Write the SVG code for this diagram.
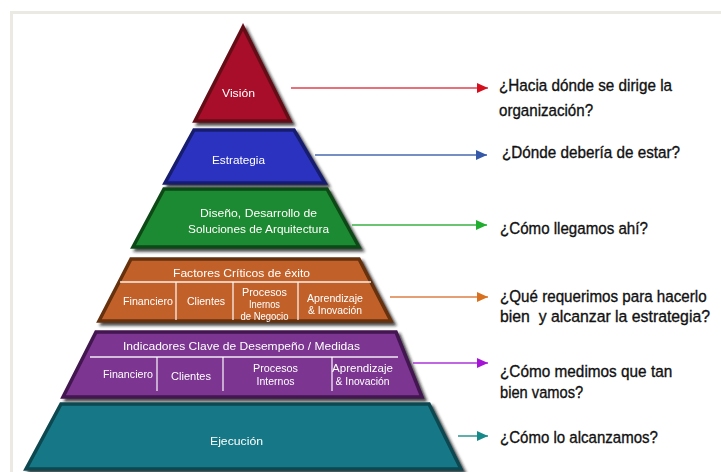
<svg xmlns="http://www.w3.org/2000/svg" width="721" height="472" viewBox="0 0 721 472">
  <defs>
    <filter id="shadow" x="-10%" y="-10%" width="125%" height="125%">
      <feDropShadow dx="3" dy="3" stdDeviation="1.4" flood-color="#1a1a1a" flood-opacity="0.8"/>
    </filter>
    <marker id="ah-red" markerUnits="userSpaceOnUse" markerWidth="12" markerHeight="10" refX="11" refY="5" orient="auto"><path d="M0,0 L11,5 L0,10 z" fill="#d4101e"/></marker>
    <marker id="ah-blue" markerUnits="userSpaceOnUse" markerWidth="12" markerHeight="10" refX="11" refY="5" orient="auto"><path d="M0,0 L11,5 L0,10 z" fill="#3558a8"/></marker>
    <marker id="ah-green" markerUnits="userSpaceOnUse" markerWidth="12" markerHeight="10" refX="11" refY="5" orient="auto"><path d="M0,0 L11,5 L0,10 z" fill="#1fae2e"/></marker>
    <marker id="ah-orange" markerUnits="userSpaceOnUse" markerWidth="12" markerHeight="10" refX="11" refY="5" orient="auto"><path d="M0,0 L11,5 L0,10 z" fill="#d9701f"/></marker>
    <marker id="ah-purple" markerUnits="userSpaceOnUse" markerWidth="12" markerHeight="10" refX="11" refY="5" orient="auto"><path d="M0,0 L11,5 L0,10 z" fill="#a514d6"/></marker>
    <marker id="ah-teal" markerUnits="userSpaceOnUse" markerWidth="12" markerHeight="10" refX="11" refY="5" orient="auto"><path d="M0,0 L11,5 L0,10 z" fill="#168a8a"/></marker>
  </defs>
  <style>
    .tier { filter: url(#shadow); }
    .tier polygon { stroke-width: 3.5; stroke-linejoin: miter; }
    .lbl { font-family: "Liberation Sans", Arial, sans-serif; font-size: 11px; fill: #ffffff; text-anchor: middle; }
    .cell { font-size: 10px; }
    .rule { stroke: #ffffff; stroke-width: 1.3; opacity: 0.9; }
    .q { font-family: "Liberation Sans", Arial, sans-serif; font-size: 17px; fill: #111111; stroke: #111111; stroke-width: 0.35; white-space: pre; }
    .conn line { stroke-width: 1.5; fill: none; }
  </style>

  <!-- page frame -->
  <rect width="721" height="472" fill="#ffffff"/>
  <path d="M11.5,472 V12.5 H721" fill="none" stroke="#ebeae2" stroke-width="3"/>

  <!-- pyramid tiers -->
  <g id="vision" class="tier">
    <polygon points="243,27 195,121 290,121" fill="#a8102a" stroke="#650a17"/>
    <text class="lbl" x="238.5" y="97" textLength="33" lengthAdjust="spacingAndGlyphs">Visión</text>
  </g>

  <g id="estrategia" class="tier">
    <polygon points="194,130 294,130 325,183 165,183" fill="#2c33bf" stroke="#181c6e"/>
    <text class="lbl" x="238.5" y="164" textLength="53" lengthAdjust="spacingAndGlyphs">Estrategia</text>
  </g>

  <g id="diseno" class="tier">
    <polygon points="164,189 327,189 359,247 133,247" fill="#1f8a30" stroke="#0d4a17"/>
    <text class="lbl" x="258.5" y="217" textLength="117" lengthAdjust="spacingAndGlyphs">Diseño, Desarrollo de</text>
    <text class="lbl" x="258.5" y="233" textLength="141" lengthAdjust="spacingAndGlyphs">Soluciones de Arquitectura</text>
  </g>

  <g id="factores" class="tier">
    <polygon points="131,259 359,259 391,321 99,321" fill="#c2612a" stroke="#66300f"/>
    <text class="lbl" x="241.5" y="277" textLength="137" lengthAdjust="spacingAndGlyphs">Factores Críticos de éxito</text>
    <line class="rule" x1="120" y1="282" x2="371" y2="282"/>
    <line class="rule" x1="176" y1="282" x2="176" y2="320"/>
    <line class="rule" x1="233" y1="282" x2="233" y2="320"/>
    <line class="rule" x1="298" y1="282" x2="298" y2="320"/>
    <text class="lbl cell" x="148" y="305" textLength="50" lengthAdjust="spacingAndGlyphs">Financiero</text>
    <text class="lbl cell" x="206" y="305" textLength="38" lengthAdjust="spacingAndGlyphs">Clientes</text>
    <text class="lbl cell" x="264.5" y="296" textLength="45" lengthAdjust="spacingAndGlyphs">Procesos</text>
    <text class="lbl cell" x="264.5" y="308" textLength="31" lengthAdjust="spacingAndGlyphs">Inernos</text>
    <text class="lbl cell" x="264.5" y="320" textLength="48" lengthAdjust="spacingAndGlyphs">de Negocio</text>
    <text class="lbl cell" x="335" y="302" textLength="56" lengthAdjust="spacingAndGlyphs">Aprendizaje</text>
    <text class="lbl cell" x="335" y="314" textLength="54" lengthAdjust="spacingAndGlyphs">&amp; Inovación</text>
  </g>

  <g id="indicadores" class="tier">
    <polygon points="96,332 396,332 422,397 63,397" fill="#7b3490" stroke="#431650"/>
    <text class="lbl" x="241.5" y="350" style="font-size:11.5px" textLength="237" lengthAdjust="spacingAndGlyphs">Indicadores Clave de Desempeño / Medidas</text>
    <line class="rule" x1="90" y1="357" x2="398" y2="357"/>
    <line class="rule" x1="157" y1="357" x2="157" y2="391"/>
    <line class="rule" x1="223" y1="357" x2="223" y2="391"/>
    <line class="rule" x1="332" y1="357" x2="332" y2="391"/>
    <text class="lbl cell" x="128" y="378" textLength="50" lengthAdjust="spacingAndGlyphs">Financiero</text>
    <text class="lbl cell" x="191" y="380" textLength="40" lengthAdjust="spacingAndGlyphs">Clientes</text>
    <text class="lbl cell" x="275.5" y="372" textLength="45" lengthAdjust="spacingAndGlyphs">Procesos</text>
    <text class="lbl cell" x="275.5" y="385" textLength="38" lengthAdjust="spacingAndGlyphs">Internos</text>
    <text class="lbl cell" x="362.5" y="372" textLength="61" lengthAdjust="spacingAndGlyphs">Aprendizaje</text>
    <text class="lbl cell" x="362.5" y="385" textLength="54" lengthAdjust="spacingAndGlyphs">&amp; Inovación</text>
  </g>

  <g id="ejecucion" class="tier">
    <polygon points="61,404 429,404 461,469 26,469" fill="#157886" stroke="#0a4750"/>
    <text class="lbl" x="236.5" y="445" textLength="53" lengthAdjust="spacingAndGlyphs">Ejecución</text>
  </g>

  <!-- connectors -->
  <g id="connectors" class="conn">
    <line x1="291" y1="88" x2="488" y2="88" stroke="#e0404f" marker-end="url(#ah-red)"/>
    <line x1="315" y1="155" x2="487" y2="155" stroke="#4a68ae" marker-end="url(#ah-blue)"/>
    <line x1="352" y1="225" x2="487" y2="225" stroke="#3ab046" marker-end="url(#ah-green)"/>
    <line x1="390" y1="297" x2="488" y2="297" stroke="#dc7f45" marker-end="url(#ah-orange)"/>
    <line x1="413" y1="363" x2="488" y2="363" stroke="#ab35d8" marker-end="url(#ah-purple)"/>
    <line x1="458" y1="436" x2="488" y2="436" stroke="#2a9494" marker-end="url(#ah-teal)"/>
  </g>

  <!-- questions: condensed horizontally to a narrow face -->
  <g id="questions">
    <text class="q" transform="translate(499,91) scale(0.84,1)" textLength="206" lengthAdjust="spacingAndGlyphs">¿Hacia dónde se dirige la</text>
    <text class="q" transform="translate(499,116) scale(0.84,1)" textLength="112" lengthAdjust="spacingAndGlyphs">organización?</text>
    <text class="q" transform="translate(502,158) scale(0.84,1)" textLength="212" lengthAdjust="spacingAndGlyphs">¿Dónde debería de estar?</text>
    <text class="q" transform="translate(500,234) scale(0.84,1)" textLength="176" lengthAdjust="spacingAndGlyphs">¿Cómo llegamos ahí?</text>
    <text class="q" transform="translate(500,302) scale(0.84,1)" textLength="246" lengthAdjust="spacingAndGlyphs">¿Qué requerimos para hacerlo</text>
    <text class="q" transform="translate(500,322) scale(0.84,1)" textLength="250" lengthAdjust="spacingAndGlyphs">bien  y alcanzar la estrategia?</text>
    <text class="q" transform="translate(500,377) scale(0.84,1)" textLength="205" lengthAdjust="spacingAndGlyphs">¿Cómo medimos que tan</text>
    <text class="q" transform="translate(500,398) scale(0.84,1)" textLength="99" lengthAdjust="spacingAndGlyphs">bien vamos?</text>
    <text class="q" transform="translate(500,443) scale(0.84,1)" textLength="188" lengthAdjust="spacingAndGlyphs">¿Cómo lo alcanzamos?</text>
  </g>
</svg>
